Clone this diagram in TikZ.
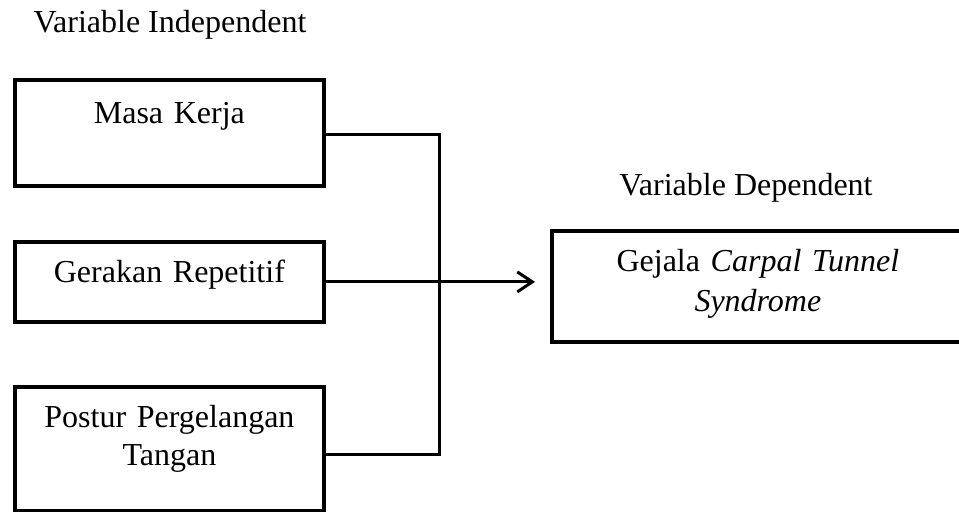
\documentclass[tikz,border=0pt]{standalone}
\usepackage{fontspec}
\setmainfont{Liberation Serif}
\usetikzlibrary{arrows.meta}

\begin{document}
\begin{tikzpicture}[x=0.5pt,y=-0.5pt]

    \tikzset{
      varbox/.style={
        draw,
        line width=1.9pt,
        anchor=north west,
        inner xsep=0pt,
        inner ysep=0pt,
        align=center,
        text width=154.5pt,
      },
      link/.style={
        line width=1.5pt,
      },
    }

	\useasboundingbox (0,0) rectangle (959,511);
	\fontsize{16}{19}\selectfont

	\node[anchor=base] (indep) at (170,32) {Variable Independent};
	\node[anchor=base] (dep) at (746,195) {Variable Dependent};

	\node[varbox,text height=22pt,text depth=31pt] (masa) at (13,78) {Masa Kerja};
	\node[varbox,text height=20.5pt,text depth=19.5pt] (gerakan) at (13,240) {Gerakan Repetitif};
	\node[varbox,text height=20.5pt,text depth=41.5pt] (postur) at (13,385) {Postur Pergelangan\\Tangan};
	\node[varbox,text width=206pt,text height=20.5pt,text depth=35pt] (gejala) at (550,229) {Gejala \textit{Carpal Tunnel}\\[1pt]\textit{Syndrome}};

	\coordinate (bus) at (439,281);
	\draw[link] ([yshift=-1pt]masa.east) -| (bus);
	\draw[link] ([yshift=-3pt]postur.east) -| (bus);
	\draw[link,-{Straight Barb[length=7.5pt,width=10pt]},shorten >=7.5pt] (gerakan.east) -- (gerakan.east -| gejala.west);

\end{tikzpicture}
\end{document}
